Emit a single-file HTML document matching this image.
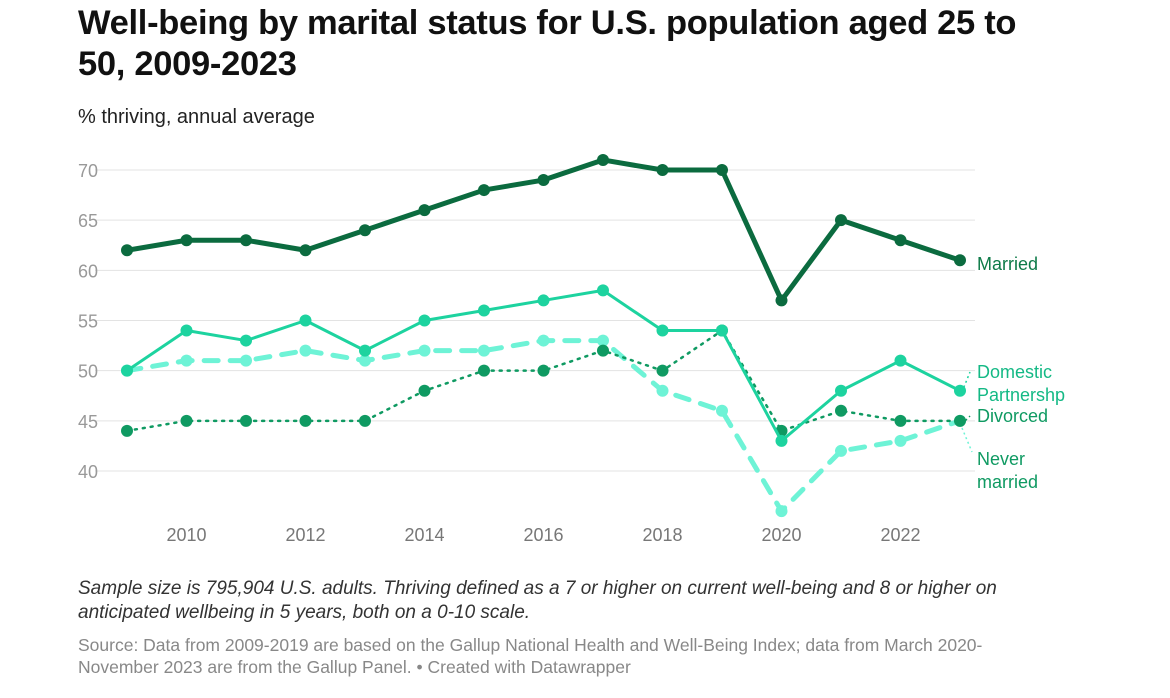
<!DOCTYPE html>
<html><head><meta charset="utf-8"><style>
body{margin:0;background:#fff;font-family:"Liberation Sans",sans-serif;}
#wrap{position:relative;width:1170px;height:698px;overflow:hidden;}
h1{position:absolute;left:78px;top:3px;margin:0;font-size:34.5px;line-height:41px;font-weight:700;color:#111;width:975px;letter-spacing:-0.3px;}
.sub{position:absolute;left:78px;top:106px;font-size:20px;color:#222;}
.note{position:absolute;left:78px;top:577px;font-size:19px;line-height:24px;color:#333;font-style:italic;width:960px;}
.src{position:absolute;left:78px;top:634px;font-size:17.5px;line-height:22px;color:#888;width:960px;}
svg{position:absolute;left:0;top:0;}
</style></head><body>
<div id="wrap">
<h1>Well-being by marital status for U.S. population aged 25 to 50, 2009-2023</h1>
<div class="sub">% thriving, annual average</div>
<svg id="chart" width="1170" height="698"></svg>
<div class="note">Sample size is 795,904 U.S. adults. Thriving defined as a 7 or higher on current well-being and 8 or higher on anticipated wellbeing in 5 years, both on a 0-10 scale.</div>
<div class="src">Source: Data from 2009-2019 are based on the Gallup National Health and Well-Being Index; data from March 2020-November 2023 are from the Gallup Panel. • Created with Datawrapper</div>
</div>
<script>
const years=[2009,2010,2011,2012,2013,2014,2015,2016,2017,2018,2019,2020,2021,2022,2023];
const married=[62,63,63,62,64,66,68,69,71,70,70,57,65,63,61];
const domestic=[50,54,53,55,52,55,56,57,58,54,54,43,48,51,48];
const divorced=[44,45,45,45,45,48,50,50,52,50,54,44,46,45,45];
const neverMarried=[50,51,51,52,51,52,52,53,53,48,46,36,42,43,45];
const yTicks=[40,45,50,55,60,65,70];
const xTicks=[2010,2012,2014,2016,2018,2020,2022];
const NS='http://www.w3.org/2000/svg';
const svg=document.getElementById('chart');
const x=v=>127+(v-2009)*(960-127)/14;
const y=v=>471-(v-40)*(471-170)/30;
function mk(t,a){const e=document.createElementNS(NS,t);for(const k in a)e.setAttribute(k,a[k]);svg.appendChild(e);return e;}
yTicks.forEach(t=>{
  const l=mk('line',{x1:95,x2:975,y1:y(t),y2:y(t),stroke:'#e3e3e3','stroke-width':1});
  
  
  const tx=mk('text',{x:78,y:y(t)+7,'font-size':18,fill:'#999','font-family':'Liberation Sans, sans-serif'});
  tx.textContent=t;
  
  
});
xTicks.forEach(t=>{
  const tx=mk('text',{x:x(t),y:541,'font-size':18,fill:'#777','text-anchor':'middle','font-family':'Liberation Sans, sans-serif'});
  tx.textContent=t;
  
  
});
function series(name,data,color,w,dash,r){
  const d=data.map((v,i)=>(i?'L':'M')+x(years[i])+','+y(v)).join('');
  const p=mk('path',{d:d,fill:'none',stroke:color,'stroke-width':w,'stroke-dasharray':dash||'none','stroke-linejoin':'round','stroke-linecap':'round'});
  
  
  data.forEach((v,i)=>{
    const c=mk('circle',{cx:x(years[i]),cy:y(v),r:r,fill:color});
    
    
  });
}
series('never-married',neverMarried,'#6ef3d6',5,'14 12',6);
series('divorced',divorced,'#0f9a62',2.5,'2 6',6);
series('domestic',domestic,'#1dd39f',3,null,6);
series('married',married,'#0b6b3f',5,null,6);
function lbl(name,lines,yy,color){
  lines.forEach((s,i)=>{
    const t=mk('text',{x:977,y:yy+i*23,'font-size':18,fill:color,'font-family':'Liberation Sans, sans-serif'});
    t.textContent=s;
    
    
  });
}
lbl('married',['Married'],270,'#0d7a48');
lbl('domestic',['Domestic','Partnershp'],378,'#14b985');
lbl('divorced',['Divorced'],422,'#0f9a62');
lbl('never-married',['Never','married'],465,'#0f9a62');
[[962,392,970,372,'#1dd39f'],[962,424,970,416,'#0f9a62'],[962,428,972,452,'#6ef3d6']].forEach(a=>{
  const l=mk('line',{x1:a[0],y1:a[1],x2:a[2],y2:a[3],stroke:a[4],'stroke-width':1.5,'stroke-dasharray':'2 3'});
  
  
});
</script>
</body></html>
